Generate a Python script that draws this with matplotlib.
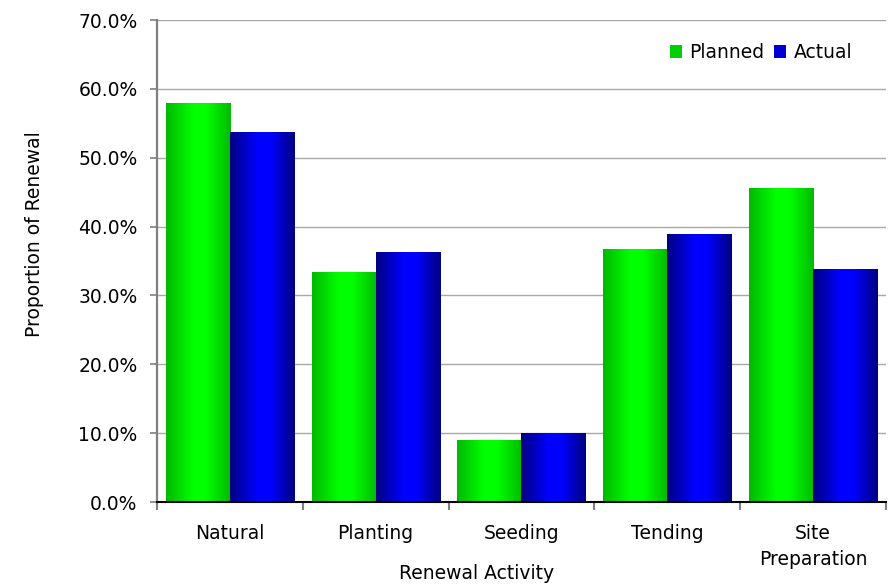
import numpy as np
import matplotlib
matplotlib.use("Agg")
import matplotlib.pyplot as plt
from matplotlib.patches import Patch
from matplotlib.ticker import FuncFormatter, FixedLocator

categories = ["Natural", "Planting", "Seeding", "Tending", "Site\nPreparation"]
planned = [57.9, 33.4, 9.0, 36.6, 45.6]
actual = [53.7, 36.3, 9.9, 38.9, 33.7]
series_names = ["Planned", "Actual"]

plt.rcParams["font.family"] = ["DejaVu Sans"]
FS = 13.5

fig = plt.figure(figsize=(8.93, 5.87), dpi=100)
ax = fig.add_axes([0.1758, 0.1448, 0.8163, 0.8211])

x = np.arange(len(categories))
width = 0.44


def shaded_bars(ax, xs, vals, dark, bright):
    # horizontal cylinder-style shading across each bar
    n = 256
    t = np.linspace(0, 1, n)
    w = np.interp(t, [0.0, 0.42, 0.62, 1.0], [0.0, 1.0, 1.0, 0.0])
    dark = np.array(dark) / 255.0
    bright = np.array(bright) / 255.0
    grad = dark[None, :] + (bright - dark)[None, :] * w[:, None]
    grad = grad[None, :, :]
    bars = ax.bar(xs, vals, width=width, color="none", edgecolor="none", zorder=3)
    for b in bars:
        x0, y0 = b.get_x(), b.get_y()
        ax.imshow(grad, extent=(x0, x0 + b.get_width(), y0, y0 + b.get_height()),
                  aspect="auto", interpolation="bilinear", zorder=3)
    return bars


shaded_bars(ax, x - width / 2, planned, (0, 185, 0), (0, 255, 0))
shaded_bars(ax, x + width / 2, actual, (0, 0, 128), (0, 0, 255))

ax.set_xlim(-0.5, len(categories) - 0.5)
ax.set_ylim(0, 70)
ax.set_yticks(np.arange(0, 71, 10))
ax.yaxis.set_major_formatter(FuncFormatter(lambda v, p: f"{v:.1f}%"))
ax.yaxis.grid(True, color="#a8a8a8", linewidth=1.0, zorder=0)
ax.set_axisbelow(True)

ax.set_xticks(x)
ax.set_xticklabels(categories, fontsize=FS, linespacing=1.45)
ax.xaxis.set_minor_locator(FixedLocator(np.arange(-0.5, len(categories), 1.0)))
ax.tick_params(axis="x", which="major", length=0, pad=16)
ax.tick_params(axis="x", which="minor", length=6, width=1.5, color="#808080")
ax.tick_params(axis="y", labelsize=FS, length=5, width=1.2, color="#808080", pad=9)

for s in ["top", "right"]:
    ax.spines[s].set_visible(False)
ax.spines["left"].set_color("#808080")
ax.spines["left"].set_linewidth(1.6)
ax.spines["bottom"].set_color("black")
ax.spines["bottom"].set_linewidth(1.5)
ax.spines["bottom"].set_zorder(5)

ax.set_ylabel("Proportion of Renewal", fontsize=FS)
ax.yaxis.set_label_coords(-0.155, 0.555)
ax.set_xlabel("Renewal Activity", fontsize=FS)
ax.xaxis.set_label_coords(0.439, -0.128)

handles = [Patch(facecolor="#00d000", edgecolor="none"),
           Patch(facecolor="#0000d0", edgecolor="none")]
ax.legend(handles, series_names, loc="upper right", bbox_to_anchor=(0.977, 0.987),
          ncol=2, frameon=False, fontsize=FS, handlelength=0.65, handleheight=0.65,
          handletextpad=0.4, columnspacing=0.5)

fig.savefig("out.png", dpi=100, facecolor="white")
